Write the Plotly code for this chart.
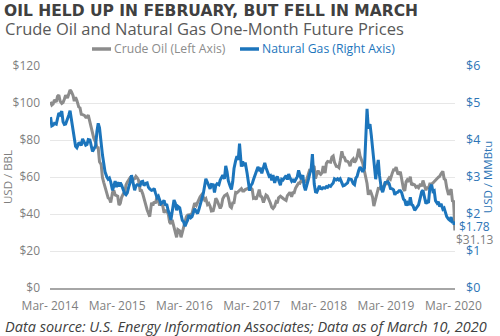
import pandas as pd
import plotly.graph_objects as go

# Weekly front-month settlement snapshots, four per month (days 4, 11, 18, 25),
# March 2014 through February 2020.
first_month = "2014-03"
sample_days = [4, 11, 18, 25]

crude_oil = [
    # 2014
    [100.6, 98.9, 99.5, 101.7], [100.6, 103.6, 104.3, 101.0], [99.8, 100.3, 102.0, 104.2],
    [102.7, 104.4, 107.0, 106.2], [104.1, 101.0, 103.1, 101.4], [97.9, 97.4, 93.9, 93.7],
    [93.3, 92.3, 92.4, 93.5], [89.7, 85.8, 82.8, 81.0], [78.7, 76.0, 75.8, 68.2],
    [66.8, 59.8, 57.1, 54.7],
    # 2015
    [50.4, 48.7, 48.2, 46.2], [51.7, 52.8, 50.3, 49.8], [49.6, 44.8, 45.7, 48.9],
    [51.1, 51.6, 55.7, 57.2], [58.9, 59.7, 59.7, 58.5], [59.1, 60.4, 59.6, 58.3],
    [52.7, 52.7, 50.9, 48.1], [44.7, 42.2, 40.4, 38.6], [46.1, 44.6, 46.7, 45.7],
    [49.6, 47.1, 44.6, 46.6], [44.3, 40.7, 41.7, 41.7], [39.9, 35.6, 34.7, 36.8],
    # 2016
    [33.2, 30.4, 27.4, 31.6], [30.9, 27.4, 29.6, 32.8], [35.9, 38.5, 39.4, 39.5],
    [39.7, 40.4, 43.7, 45.9], [44.7, 46.2, 48.4, 49.3], [50.6, 48.9, 47.6, 48.3],
    [45.1, 45.7, 44.2, 41.6], [41.8, 44.5, 48.5, 47.3], [44.4, 43.0, 44.5, 48.2],
    [49.8, 50.4, 50.8, 49.0], [44.1, 43.4, 46.0, 46.1], [51.7, 51.5, 52.0, 53.0],
    # 2017
    [53.7, 52.4, 52.4, 53.2], [53.8, 53.9, 53.4, 54.0], [53.3, 48.5, 48.8, 47.9],
    [50.6, 53.2, 49.6, 49.3], [46.2, 47.8, 50.3, 49.8], [47.7, 45.8, 43.7, 43.0],
    [44.2, 46.5, 45.8, 48.8], [49.6, 48.8, 48.5, 47.9], [47.3, 49.9, 50.6, 51.7],
    [49.3, 51.5, 51.5, 53.9], [55.6, 56.7, 56.6, 58.0], [57.4, 57.3, 57.3, 58.5],
    # 2018
    [61.4, 64.3, 63.4, 66.1], [65.5, 59.2, 61.7, 63.5], [62.0, 61.4, 62.3, 65.9],
    [62.1, 67.4, 68.4, 68.1], [68.0, 70.7, 71.3, 67.9], [65.8, 65.7, 65.1, 68.6],
    [73.9, 71.0, 70.5, 68.7], [68.5, 67.6, 65.9, 68.7], [69.8, 67.8, 68.9, 70.8],
    [75.3, 71.3, 69.1, 67.6], [63.1, 60.2, 56.5, 50.4], [52.9, 51.2, 49.2, 44.3],
    # 2019
    [47.9, 51.6, 53.8, 53.7], [55.3, 52.7, 55.6, 57.3], [55.8, 58.5, 59.5, 58.8],
    [62.1, 63.9, 63.8, 65.3], [61.9, 61.7, 62.8, 58.6], [53.5, 52.5, 57.4, 58.5],
    [57.5, 60.2, 55.6, 56.2], [55.7, 54.5, 54.9, 54.2], [56.3, 54.9, 58.1, 55.9],
    [52.8, 54.7, 53.8, 56.2], [56.2, 56.8, 57.7, 58.1], [59.2, 59.9, 60.4, 61.7],
    # 2020
    [63.1, 59.0, 58.5, 54.2], [50.3, 52.1, 53.4, 47.1],
]

natural_gas = [
    # 2014
    [4.62, 4.38, 4.40, 4.45], [4.43, 4.59, 4.73, 4.69], [4.78, 4.49, 4.42, 4.43],
    [4.55, 4.67, 4.79, 4.54], [4.19, 4.06, 3.83, 3.79], [3.91, 3.92, 3.85, 4.03],
    [3.90, 3.86, 3.88, 4.01], [4.00, 3.86, 3.69, 3.75], [3.85, 4.23, 4.45, 4.33],
    [3.78, 3.60, 3.37, 3.14],
    # 2015
    [3.00, 2.94, 2.97, 2.87], [2.64, 2.76, 2.89, 2.73], [2.86, 2.74, 2.85, 2.78],
    [2.61, 2.55, 2.52, 2.57], [2.75, 2.86, 3.05, 2.90], [2.64, 2.76, 2.79, 2.78],
    [2.77, 2.87, 2.88, 2.77], [2.83, 2.84, 2.72, 2.68], [2.64, 2.65, 2.69, 2.57],
    [2.44, 2.48, 2.36, 2.28], [2.32, 2.37, 2.23, 2.27], [2.08, 1.99, 1.84, 2.12],
    # 2016
    [2.38, 2.29, 2.10, 2.21], [2.17, 1.99, 1.83, 1.79], [1.67, 1.76, 1.83, 1.97],
    [1.90, 1.93, 2.05, 2.14], [2.06, 2.01, 2.12, 2.25], [2.40, 2.55, 2.75, 2.95],
    [2.85, 2.75, 2.68, 2.80], [2.79, 2.58, 2.77, 2.82], [2.79, 2.92, 2.98, 3.05],
    [2.95, 3.30, 3.15, 2.90], [2.75, 2.66, 2.87, 3.23], [3.44, 3.56, 3.46, 3.90],
    # 2017
    [3.28, 3.42, 3.30, 3.39], [3.11, 2.89, 2.63, 2.77], [2.82, 2.93, 3.05, 3.17],
    [3.27, 3.20, 3.25, 3.10], [3.30, 3.38, 3.25, 3.15], [3.02, 3.04, 2.91, 3.05],
    [2.84, 2.96, 3.01, 2.92], [2.78, 2.94, 2.92, 2.97], [3.04, 2.93, 3.08, 2.98],
    [2.89, 2.94, 2.86, 2.92], [3.01, 3.18, 3.03, 2.94], [3.05, 2.76, 2.64, 2.75],
    # 2018
    [2.95, 3.10, 3.20, 3.62], [2.81, 2.60, 2.59, 2.67], [2.76, 2.69, 2.68, 2.71],
    [2.70, 2.74, 2.72, 2.77], [2.75, 2.80, 2.84, 2.95], [2.92, 2.95, 2.92, 2.95],
    [2.86, 2.76, 2.77, 2.79], [2.84, 2.95, 2.95, 2.93], [2.82, 2.79, 2.97, 3.02],
    [3.18, 3.27, 3.22, 3.14], [3.24, 3.88, 4.84, 4.31], [4.43, 4.13, 3.80, 3.45],
    # 2019
    [2.94, 3.24, 3.46, 3.03], [2.68, 2.59, 2.69, 2.85], [2.86, 2.87, 2.82, 2.69],
    [2.68, 2.65, 2.52, 2.57], [2.59, 2.63, 2.63, 2.58], [2.40, 2.37, 2.23, 2.30],
    [2.24, 2.45, 2.26, 2.23], [2.10, 2.17, 2.20, 2.25], [2.44, 2.60, 2.64, 2.43],
    [2.28, 2.33, 2.30, 2.69], [2.79, 2.61, 2.63, 2.36], [2.29, 2.33, 2.20, 2.28],
    # 2020
    [2.13, 2.16, 2.02, 1.93], [1.86, 1.83, 1.92, 1.76],
]

# Early March 2020 closes
final_dates = ["2020-03-02", "2020-03-05", "2020-03-09"]
crude_oil_final = [46.8, 41.3, 31.13]
natural_gas_final = [1.79, 1.71, 1.78]

tick_dates = ["2014-03-01", "2015-03-01", "2016-03-01", "2017-03-01",
              "2018-03-01", "2019-03-01", "2020-03-01"]
tick_labels = ["Mar- 2014", "Mar- 2015", "Mar- 2016", "Mar- 2017",
               "Mar- 2018", "Mar- 2019", "Mar- 2020"]

series_names = ["Crude Oil (Left Axis)", "Natural Gas (Right Axis)"]

# Flatten the monthly rows into dated series
months = pd.period_range(first_month, periods=len(crude_oil), freq="M")
dates, oil, gas = [], [], []
for m, orow, grow in zip(months, crude_oil, natural_gas):
    for d, o, g in zip(sample_days, orow, grow):
        dates.append(f"{m.year}-{m.month:02d}-{d:02d}")
        oil.append(o)
        gas.append(g)
dates += final_dates
oil += crude_oil_final
gas += natural_gas_final

GRAY = "#8C8C8C"
BLUE = "#1C75BC"
TICK_GRAY = "#7F7F7F"
TICK_BLUE = "#2E75B6"
FONT = "Open Sans"

# Plot area: 50..455 px horizontally, 66..288 px vertically
ML, MR, MT, MB = 50, 45, 66, 48
W, H = 500, 336
PW, PH = W - ML - MR, H - MT - MB


def px_x(px):
    return (px - ML) / PW


def px_y(py):
    return (H - MB - py) / PH


fig = go.Figure()
fig.add_trace(go.Scatter(
    x=dates, y=oil, mode="lines", name=series_names[0],
    line=dict(color=GRAY, width=3), yaxis="y", showlegend=False,
))
fig.add_trace(go.Scatter(
    x=dates, y=gas, mode="lines", name=series_names[1],
    line=dict(color=BLUE, width=3), yaxis="y2", showlegend=False,
))

fig.update_layout(
    width=W, height=H,
    margin=dict(l=ML, r=MR, t=MT, b=MB),
    paper_bgcolor="white", plot_bgcolor="white",
    font=dict(family=FONT, size=12, color=TICK_GRAY),
    xaxis=dict(
        type="date", range=["2014-03-01", "2020-03-10"],
        tickmode="array", tickvals=tick_dates, ticktext=tick_labels,
        showgrid=False, showline=True, linecolor="#A6A6A6", linewidth=2,
        ticks="", ticklabelstandoff=6, automargin=False,
        tickfont=dict(family=FONT, size=12, color=TICK_GRAY),
        zeroline=False,
    ),
    yaxis=dict(
        range=[0, 120], dtick=20, tickprefix="$",
        showgrid=True, gridcolor="#E7E7E7", gridwidth=1, zeroline=False,
        ticks="", ticklabelstandoff=9, automargin=False,
        tickfont=dict(family=FONT, size=12, color=TICK_GRAY),
        title=dict(text="USD / BBL", font=dict(family=FONT, size=11.5, color=TICK_GRAY),
                   standoff=8),
    ),
    yaxis2=dict(
        range=[0, 6], dtick=1, tickprefix="$", overlaying="y", side="right",
        showgrid=False, zeroline=False,
        ticks="", ticklabelstandoff=10, automargin=False,
        tickfont=dict(family=FONT, size=12.5, color=TICK_BLUE),
        title=dict(text="USD / MMBtu", font=dict(family=FONT, size=11.5, color=TICK_BLUE),
                   standoff=4),
    ),
    title=dict(
        text="<b>OIL HELD UP IN FEBRUARY, BUT FELL IN MARCH</b>",
        font=dict(family="DejaVu Sans", size=15.5, color="#404040"),
        xref="container", yref="container", x=4 / W, y=1 - 11 / H,
        xanchor="left", yanchor="middle",
    ),
)

fig.add_annotation(
    text="Crude Oil and Natural Gas One-Month Future Prices",
    xref="paper", yref="paper", x=px_x(3), y=px_y(29),
    xanchor="left", yanchor="middle", showarrow=False,
    font=dict(family=FONT, size=16.5, color="#595959"),
)
fig.add_annotation(
    text="<i>Data source: U.S. Energy Information Associates; Data as of March 10, 2020</i>",
    xref="paper", yref="paper", x=px_x(3), y=px_y(326),
    xanchor="left", yanchor="middle", showarrow=False,
    font=dict(family=FONT, size=14.5, color="#404040"),
)

# Legend: short line keys with coloured labels
legend_items = [(92, 111, GRAY, series_names[0]), (240, 259, BLUE, series_names[1])]
for x0, x1, color, label in legend_items:
    fig.add_shape(
        type="line", xref="paper", yref="paper",
        x0=px_x(x0), x1=px_x(x1), y0=px_y(49), y1=px_y(49),
        line=dict(color=color, width=3.5),
    )
    fig.add_annotation(
        text=label, xref="paper", yref="paper", x=px_x(x1 + 1), y=px_y(49),
        xanchor="left", yanchor="middle", showarrow=False,
        font=dict(family=FONT, size=12.2, color=color),
    )

# End-of-series value labels
fig.add_annotation(
    text=f"${natural_gas_final[-1]:.2f}", x=final_dates[-1], y=natural_gas_final[-1],
    xref="x", yref="y2", xanchor="left", yanchor="middle", xshift=2, yshift=-4,
    showarrow=False, font=dict(family=FONT, size=12, color=TICK_BLUE),
)
fig.add_annotation(
    text=f"${crude_oil_final[-1]:.2f}", x=final_dates[-1], y=crude_oil_final[-1],
    xref="x", yref="y", xanchor="left", yanchor="middle", xshift=-1, yshift=-9,
    showarrow=False, font=dict(family=FONT, size=12, color=TICK_GRAY),
)

fig.write_html("out.html")
